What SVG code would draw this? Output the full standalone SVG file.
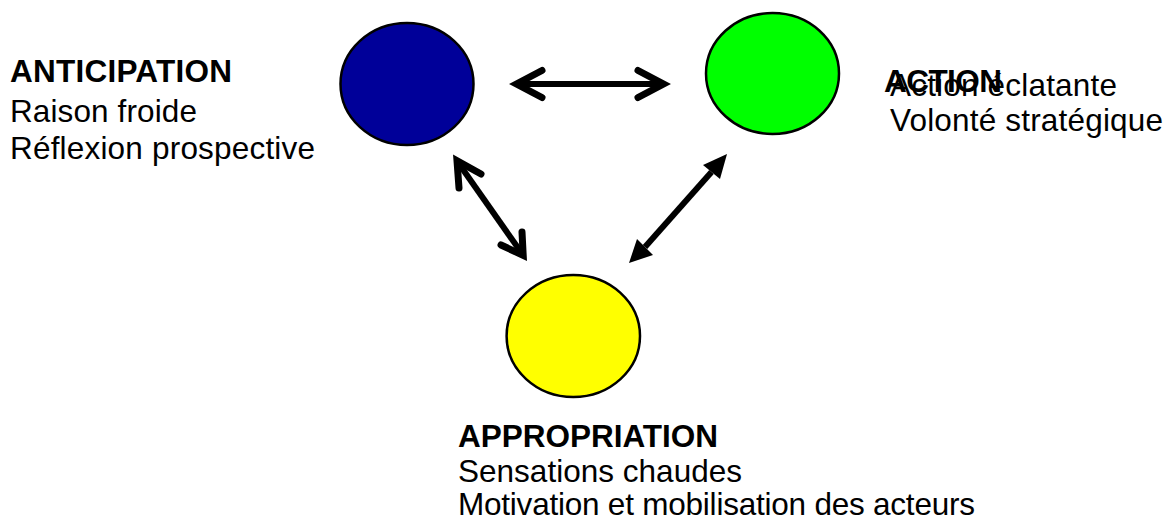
<svg xmlns="http://www.w3.org/2000/svg" width="1168" height="518" viewBox="0 0 1168 518">
<style>
.t{font-family:"Liberation Sans",Arial,sans-serif;font-size:31.5px;fill:#000}
.b{font-weight:bold}
.n{stroke:#000;stroke-width:2.5}
.sh{stroke:#000;stroke-width:6;fill:none}
.ch{stroke:#000;stroke-width:7;fill:none;stroke-linecap:round;stroke-linejoin:miter;stroke-miterlimit:6}
.hd{fill:#000;stroke:none}
</style>
<rect width="1168" height="518" fill="#fff"/>
<g id="anticipation">
<ellipse cx="407" cy="84" rx="66.5" ry="61" fill="#000099" class="n"/>
<text class="t b" x="10" y="82" textLength="222">ANTICIPATION</text>
<text class="t" x="10" y="122" textLength="187">Raison froide</text>
<text class="t" x="10" y="159" textLength="305">Réflexion prospective</text>
</g>
<g id="action">
<ellipse cx="772.5" cy="73.5" rx="66.5" ry="60.5" fill="#00ff00" class="n"/>
<text class="t b" x="884" y="92" textLength="118">ACTION</text>
<text class="t" x="890" y="96" textLength="227">Action éclatante</text>
<text class="t" x="890" y="131" textLength="273">Volonté stratégique</text>
</g>
<g id="appropriation">
<ellipse cx="573.3" cy="336" rx="66.7" ry="61" fill="#ffff00" class="n"/>
<text class="t b" x="458" y="447" textLength="260">APPROPRIATION</text>
<text class="t" x="458" y="482" textLength="284">Sensations chaudes</text>
<text class="t" x="458" y="515" textLength="517">Motivation et mobilisation des acteurs</text>
</g>
<g id="connectors">
<line class="sh" x1="516" y1="84" x2="664" y2="84"/>
<polyline class="ch" points="542,70.5 516.5,84 542,97.5"/>
<polyline class="ch" points="638,70.5 663.5,84 638,97.5"/>
<line class="sh" x1="457" y1="161" x2="523" y2="255"/>
<polyline class="ch" points="459,188 457,160.7 481,174"/>
<polyline class="ch" points="522,232 523.2,255.4 501,245"/>
<line class="sh" x1="711.5" y1="172" x2="645" y2="247"/>
<polygon class="hd" points="727,154 703,165 720,179"/>
<polygon class="hd" points="629,263 637,239 653,255"/>
</g>
</svg>
